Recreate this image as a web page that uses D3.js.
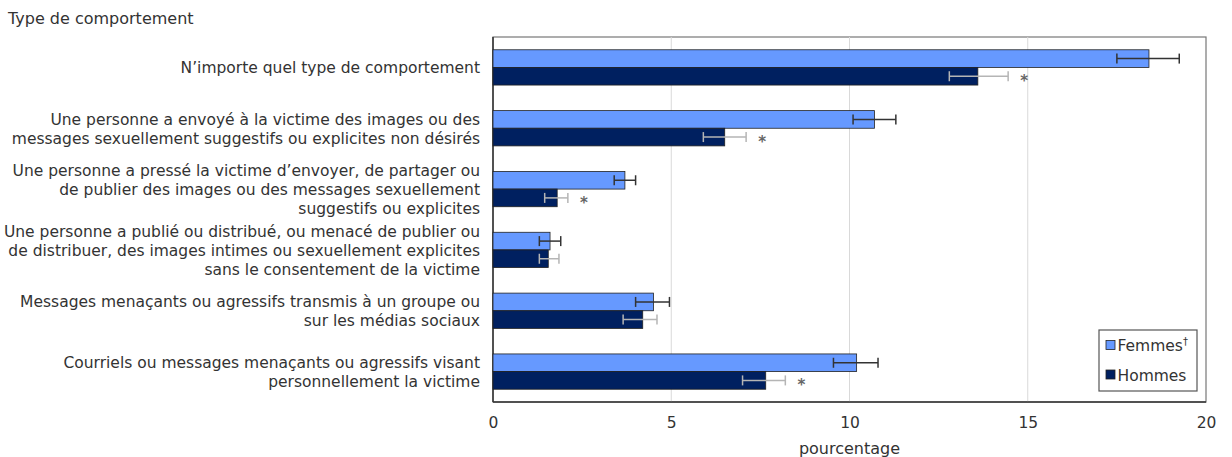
<!DOCTYPE html>
<html lang="fr">
<head>
<meta charset="utf-8">
<title>Type de comportement</title>
<script src="https://cdn.jsdelivr.net/npm/d3@7"></script>
<style>
  body { margin: 0; background: #fff; }
  text { font-family: Verdana, "DejaVu Sans", sans-serif; fill: #333; }
</style>
</head>
<body>
<script>
// categories (one entry per line of the label)
var categories = [
  ["N\u2019importe quel type de comportement"],
  ["Une personne a envoyé à la victime des images ou des",
   "messages sexuellement suggestifs ou explicites non désirés"],
  ["Une personne a pressé la victime d\u2019envoyer, de partager ou",
   "de publier des images ou des messages sexuellement",
   "suggestifs ou explicites"],
  ["Une personne a publié ou distribué, ou menacé de publier ou",
   "de distribuer, des images intimes ou sexuellement explicites",
   "sans le consentement de la victime"],
  ["Messages menaçants ou agressifs transmis à un groupe ou",
   "sur les médias sociaux"],
  ["Courriels ou messages menaçants ou agressifs visant",
   "personnellement la victime"]
];
var femmes     = [18.4, 10.7, 3.7, 1.6, 4.5, 10.2];
var femmesLow  = [17.5, 10.1, 3.4, 1.3, 4.0, 9.55];
var femmesHigh = [19.25, 11.3, 4.0, 1.9, 4.95, 10.8];
var hommes     = [13.6, 6.5, 1.8, 1.55, 4.2, 7.65];
var hommesLow  = [12.8, 5.9, 1.45, 1.3, 3.65, 7.0];
var hommesHigh = [14.45, 7.1, 2.1, 1.85, 4.6, 8.2];
var significant = [true, true, true, false, false, true];
var ticks = [0, 5, 10, 15, 20];
var seriesNames = ["Femmes", "Hommes"];
var seriesMarks = ["\u2020", ""];

var w = 1232, h = 457;
var pLeft = 493, pRight = 1206, pTop = 37, pBottom = 402;

var svg = d3.select("body").append("svg").attr("width", w).attr("height", h);

var x = d3.scaleLinear().domain([0, 20]).range([pLeft, pRight]);
var y = d3.scaleBand().domain(d3.range(categories.length)).range([pTop, pBottom])
  .paddingInner(0.42).paddingOuter(0.21);
var sub = d3.scaleBand().domain([0, 1]).range([0, y.bandwidth()]);

// frame
svg.append("rect").attr("x", pLeft).attr("y", pTop)
  .attr("width", pRight - pLeft).attr("height", pBottom - pTop)
  .attr("fill", "none").attr("stroke", "#777").attr("stroke-width", 1.2);

// gridlines
svg.selectAll("line.grid").data(ticks.slice(1, -1)).enter().append("line")
  .attr("class", "grid")
  .attr("x1", function(d) { return x(d); }).attr("x2", function(d) { return x(d); })
  .attr("y1", pTop).attr("y2", pBottom)
  .attr("stroke", "#d9d9d9").attr("stroke-width", 1);

// axis
var axis = svg.append("g").attr("transform", "translate(0," + pBottom + ")")
  .call(d3.axisBottom(x).tickValues(ticks).tickSize(0).tickPadding(15));
axis.select(".domain").remove();
axis.selectAll("text").style("font-size", "15.5px").attr("fill", "#333")
  .style("font-family", "Verdana, 'DejaVu Sans', sans-serif");

svg.append("line").attr("x1", pLeft).attr("x2", pLeft).attr("y1", pTop).attr("y2", pBottom)
  .attr("stroke", "#333").attr("stroke-width", 1.5);
svg.append("line").attr("x1", pLeft).attr("x2", pRight).attr("y1", pBottom).attr("y2", pBottom)
  .attr("stroke", "#333").attr("stroke-width", 1.5);

// bars
var rows = categories.map(function(c, i) {
  return [
    {i: i, s: 0, v: femmes[i], lo: femmesLow[i], hi: femmesHigh[i]},
    {i: i, s: 1, v: hommes[i], lo: hommesLow[i], hi: hommesHigh[i]}
  ];
});
var flat = d3.merge(rows);
var colors = ["#6699ff", "#002060"];
var errColors = ["#333", "#b5b5b5"];

svg.selectAll("rect.bar").data(flat).enter().append("rect")
  .attr("class", "bar")
  .attr("x", x(0))
  .attr("y", function(d) { return y(d.i) + sub(d.s); })
  .attr("width", function(d) { return x(d.v) - x(0); })
  .attr("height", sub.bandwidth())
  .attr("fill", function(d) { return colors[d.s]; })
  .attr("stroke", "#222").attr("stroke-width", 0.8);

// error bars
var eb = svg.selectAll("g.err").data(flat).enter().append("g")
  .attr("class", "err")
  .attr("transform", function(d) {
    return "translate(0," + (y(d.i) + sub(d.s) + sub.bandwidth() / 2) + ")";
  })
  .attr("stroke", function(d) { return errColors[d.s]; })
  .attr("stroke-width", 1.5);
eb.append("line").attr("x1", function(d) { return x(d.lo); }).attr("x2", function(d) { return x(d.hi); });
eb.append("line").attr("x1", function(d) { return x(d.lo); }).attr("x2", function(d) { return x(d.lo); })
  .attr("y1", -5).attr("y2", 5);
eb.append("line").attr("x1", function(d) { return x(d.hi); }).attr("x2", function(d) { return x(d.hi); })
  .attr("y1", -5).attr("y2", 5);

// significance marks
svg.selectAll("text.sig").data(flat.filter(function(d) { return d.s === 1 && significant[d.i]; }))
  .enter().append("text")
  .attr("class", "sig")
  .attr("x", function(d) { return x(d.hi) + 16; })
  .attr("y", function(d) { return y(d.i) + sub(1) + sub.bandwidth() / 2 + 10; })
  .attr("text-anchor", "middle").style("font-size", "15px").style("font-weight", "bold")
  .style("fill", "#666")
  .text("*");

// category labels
var lineH = 18.7;
var lab = svg.selectAll("text.cat").data(categories).enter().append("text")
  .attr("class", "cat").attr("text-anchor", "end").style("font-size", "15.5px");
lab.each(function(lines, i) {
  var cy = y(i) + y.bandwidth() / 2;
  var y0 = cy - (lines.length - 1) * lineH / 2 + 6;
  d3.select(this).selectAll("tspan").data(lines).enter().append("tspan")
    .attr("x", 480).attr("y", function(d, k) { return y0 + k * lineH; })
    .text(function(d) { return d; });
});

svg.append("text").attr("x", 8).attr("y", 24).style("font-size", "16px").text("Type de comportement");
svg.append("text").attr("x", (pLeft + pRight) / 2).attr("y", 453.5).attr("text-anchor", "middle")
  .style("font-size", "16px").text("pourcentage");

// legend
var lg = svg.append("g");
lg.append("rect").attr("x", 1099).attr("y", 330).attr("width", 98).attr("height", 61)
  .attr("fill", "#fff").attr("stroke", "#555").attr("stroke-width", 1.2);
var li = lg.selectAll("g.li").data(seriesNames).enter().append("g")
  .attr("class", "li")
  .attr("transform", function(d, k) { return "translate(1106," + (345.5 + k * 29.5) + ")"; });
li.append("rect").attr("x", 0).attr("y", -5).attr("width", 9).attr("height", 9)
  .attr("fill", function(d, k) { return colors[k]; }).attr("stroke", "#222").attr("stroke-width", 0.8);
var lt = li.append("text").attr("x", 11.5).attr("y", 5.5).style("font-size", "15.5px");
lt.append("tspan").text(function(d) { return d; });
lt.append("tspan").attr("dy", -6).style("font-size", "10px").text(function(d, k) { return seriesMarks[k]; });
</script>
</body>
</html>
